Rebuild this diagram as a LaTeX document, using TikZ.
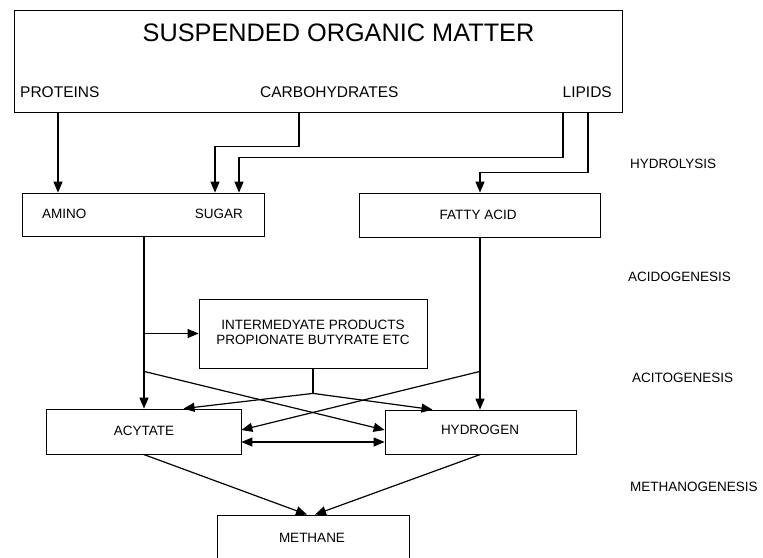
\documentclass[tikz,border=0pt]{standalone}
\usepackage{fontspec}
\setmainfont{Liberation Sans}
\usetikzlibrary{arrows.meta,calc}

\begin{document}
\begin{tikzpicture}[x=1pt,y=-1pt,
  box/.style={draw, line width=0.8pt, rectangle, inner sep=0pt},
  lbl/.style={font=\fontsize{13.5}{15}\selectfont, inner sep=0pt},
  sub/.style={font=\fontsize{15.5}{18}\selectfont, inner sep=0pt},
  tip/.tip={Triangle[length=11pt,width=9pt]},
  flow/.style={line width=1.2pt, -tip},
  twoway/.style={line width=1.2pt, tip-tip},
  link/.style={line width=1.2pt}]
\useasboundingbox (0,0) rectangle (763,557);

% boxes
\node[box, minimum width=608pt, minimum height=102pt] (top) at (318,61) {};
\node[box, minimum width=242pt, minimum height=43pt] (amino) at (143,214.5) {};
\node[box, minimum width=241pt, minimum height=44pt] (fatty) at (479.5,215) {};
\node[box, minimum width=228pt, minimum height=69pt] (inter) at (313,333.5) {};
\node[box, minimum width=195pt, minimum height=45pt] (acy) at (143.5,431.5) {};
\node[box, minimum width=191pt, minimum height=44pt] (hyd) at (480.5,432) {};
\node[box, minimum width=192pt, minimum height=44pt] (meth) at (313,537) {};

% texts
\node[font=\fontsize{25.3}{28}\selectfont, inner sep=0pt] (title) at (338.5,33) {SUSPENDED ORGANIC MATTER};
\node[sub, anchor=base west] (proteins) at (20,97) {PROTEINS};
\node[sub, anchor=base west] (carbo) at (260,97) {CARBOHYDRATES};
\node[sub, anchor=base east] (lipids) at (612,97) {LIPIDS};
\node[lbl, anchor=base west] (aminot) at (42,218) {AMINO};
\node[lbl, anchor=base east] (sugart) at (243,218) {SUGAR};
\node[lbl, anchor=base] (fattyt) at (478,219) {FATTY ACID};
\node[lbl, align=center] (intert) at (313,332.5) {INTERMEDYATE PRODUCTS\\PROPIONATE BUTYRATE ETC};
\node[lbl, anchor=base] (acyt) at (144,435) {ACYTATE};
\node[lbl, anchor=base] (hydt) at (480,434) {HYDROGEN};
\node[lbl, anchor=base] (metht) at (312,542) {METHANE};

% stage labels
\node[lbl, anchor=base west] (s1) at (630,168) {HYDROLYSIS};
\node[lbl, anchor=base west] (s2) at (628,281) {ACIDOGENESIS};
\node[lbl, anchor=base west] (s3) at (632,382) {ACITOGENESIS};
\node[lbl, anchor=base west] (s4) at (630,491) {METHANOGENESIS};

% column positions
\coordinate (cP) at (58,0);
\coordinate (cC) at (299,0);
\coordinate (cS1) at (215,0);
\coordinate (cS2) at (239,0);
\coordinate (cL1) at (563,0);
\coordinate (cL2) at (588,0);
\coordinate (cF) at (480,0);
\coordinate (cA) at (144,0);

% hydrolysis
\draw[flow] (top.south -| cP) -- (amino.north -| cP);
\draw[flow] (top.south -| cC) -- ++(0,34) -| (amino.north -| cS1);
\draw[flow] (top.south -| cL1) -- ++(0,45) -| (amino.north -| cS2);
\draw[flow] (top.south -| cL2) -- ++(0,60) -| (fatty.north -| cF);

% acidogenesis trunks
\draw[flow] (amino.south -| cA) -- (acy.north -| cA);
\draw[flow] (fatty.south -| cF) -- (hyd.north -| cF);
\draw[flow] (inter.west -| cA) -- (inter.west);

% junctions
\coordinate (jA) at ($(inter.south -| cA)+(0,3)$);
\coordinate (jF) at ($(inter.south -| cF)+(0,3)$);
\coordinate (jI) at ($(inter.south)+(0,25)$);

% acetogenesis
\draw[link] (inter.south) -- (jI);
\draw[flow] (jI) -- ($(acy.north)+(40,0)$);
\draw[flow] (jI) -- ($(hyd.north)+(-48,0)$);
\draw[flow] (jA) -- ($(hyd.west)+(0,-2)$);
\draw[flow] (jF) -- ($(acy.east)+(0,-1.5)$);
\draw[twoway] ($(acy.east)+(0,10.5)$) -- ($(hyd.west)+(0,10)$);

% methanogenesis
\draw[flow] (acy.south) -- ($(meth.north)+(-6,0)$);
\draw[flow] (hyd.south) -- ($(meth.north)+(2,0)$);
\end{tikzpicture}
\end{document}
